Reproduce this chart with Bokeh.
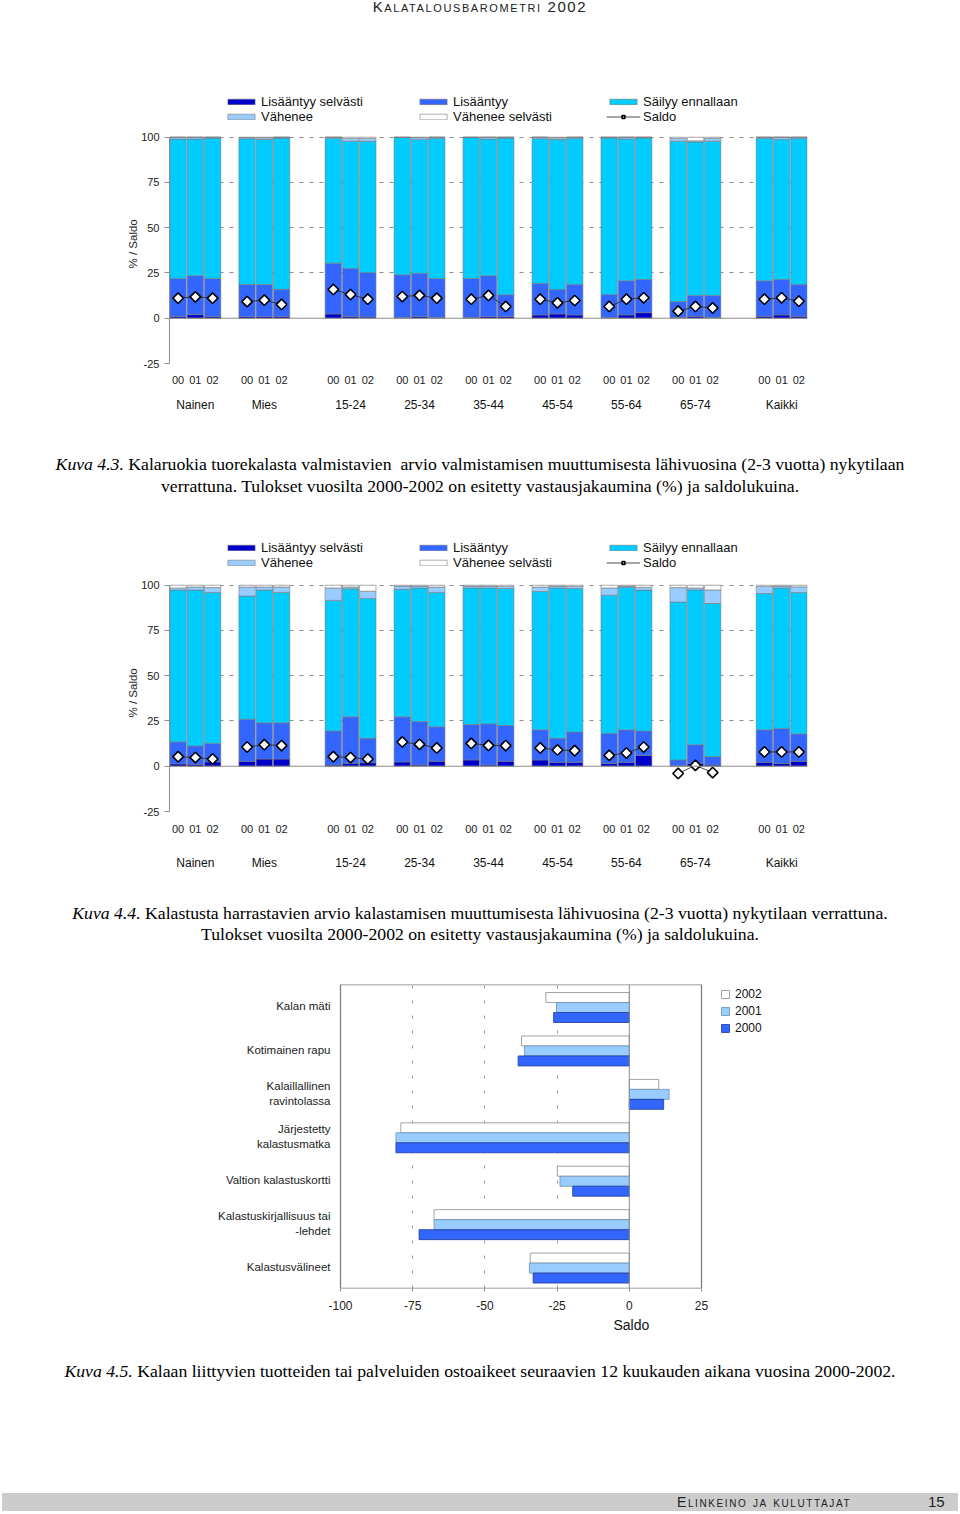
import numpy as np
from bokeh.plotting import figure
from bokeh.models import (Range1d, FixedTicker, LinearAxis, Span, Legend, LegendItem, Div,
                          Title, BoxAnnotation)
from bokeh.core.properties import value
from bokeh.layouts import column
from bokeh.embed import file_html
from bokeh.resources import INLINE

# ---------------- data ----------------
groups = ["Nainen", "Mies", "15-24", "25-34", "35-44", "45-54", "55-64", "65-74", "Kaikki"]
years = ["00", "01", "02"]

# Kuva 4.3 (percent shares per group x year, and saldo)
c1_lis_selv = [1.0, 2.0, 1.0, 1.0, 1.0, 1.0, 2.4, 1.0, 0.7, 0.4, 1.0, 0.4, 0.4, 1.0, 1.0,
               1.8, 2.4, 1.8, 0.4, 1.8, 3.1, 0.4, 1.1, 0.4, 1.1, 1.8, 1.1]
c1_lis = [21.0, 21.5, 21.0, 17.7, 17.7, 15.0, 28.0, 26.5, 24.6, 23.6, 23.8, 21.6, 21.6, 22.5, 12.0,
          17.4, 13.5, 16.9, 12.7, 18.9, 18.3, 8.8, 11.5, 12.2, 19.6, 19.6, 17.6]
c1_sailyy = [77.0, 75.5, 77.5, 80.5, 80.0, 83.5, 69.0, 70.3, 72.5, 75.8, 74.0, 77.4, 77.8, 75.5, 86.5,
             80.0, 82.8, 80.7, 86.5, 78.4, 78.2, 88.6, 84.8, 85.2, 78.7, 77.5, 80.7]
c1_vah = [1.0, 1.0, 0.5, 0.6, 1.0, 0.5, 0.6, 1.5, 1.5, 0.2, 1.0, 0.6, 0.2, 1.0, 0.5,
          0.8, 1.0, 0.6, 0.4, 0.9, 0.4, 1.5, 0.6, 1.6, 0.6, 1.1, 0.6]
c1_vah_selv = [0.0, 0.0, 0.0, 0.2, 0.3, 0.0, 0.0, 0.7, 0.7, 0.0, 0.2, 0.0, 0.0, 0.0, 0.0,
               0.0, 0.3, 0.0, 0.0, 0.0, 0.0, 0.7, 2.0, 0.6, 0.0, 0.0, 0.0]
c1_saldo = [11.1, 11.8, 11.1, 9.2, 10.0, 7.6, 15.9, 13.1, 10.5, 12.0, 12.6, 11.1, 10.5, 12.6, 6.5,
            10.5, 8.5, 9.8, 6.5, 10.5, 11.3, 3.9, 6.5, 5.7, 10.5, 11.3, 9.4]

# Kuva 4.4
c2_lis_selv = [1.3, 1.1, 2.4, 2.7, 4.0, 4.0, 0.7, 1.6, 2.0, 2.4, 0.7, 2.7, 3.5, 0.7, 2.7,
               3.5, 2.2, 2.2, 1.5, 2.2, 6.0, 0.3, 1.5, 0.7, 2.2, 1.5, 2.7]
c2_lis = [12.1, 10.1, 10.2, 23.3, 20.0, 20.0, 18.7, 25.7, 13.4, 24.9, 24.0, 19.1, 19.6, 22.7, 19.8,
          16.6, 13.2, 16.7, 16.6, 17.9, 13.4, 3.2, 10.4, 4.6, 17.9, 19.4, 15.2]
c2_sailyy = [83.9, 86.1, 83.4, 68.0, 73.3, 72.0, 72.2, 70.7, 77.3, 70.5, 73.8, 74.2, 75.4, 75.1, 75.7,
             76.4, 83.1, 79.3, 76.4, 78.8, 77.9, 87.2, 85.5, 84.6, 75.3, 77.6, 78.1]
c2_vah = [1.2, 1.7, 2.7, 5.0, 1.7, 3.0, 6.9, 1.0, 4.0, 1.7, 1.0, 3.0, 1.0, 1.0, 1.1,
          2.5, 1.0, 1.1, 4.0, 0.6, 1.6, 8.0, 1.1, 7.5, 3.9, 1.0, 3.1]
c2_vah_selv = [1.5, 1.0, 1.3, 1.0, 1.0, 1.0, 1.5, 1.0, 3.3, 0.5, 0.5, 1.0, 0.5, 0.5, 0.7,
               1.0, 0.5, 0.7, 1.5, 0.5, 1.1, 1.3, 1.5, 2.6, 0.7, 0.5, 0.9]
c2_saldo = [5.3, 4.8, 4.0, 10.6, 11.9, 11.4, 5.3, 4.8, 4.0, 13.4, 12.1, 10.1, 12.6, 11.5, 11.4,
            10.1, 9.0, 8.6, 6.0, 7.3, 10.6, -4.0, 0.5, -3.5, 7.9, 7.9, 7.9]

# Kuva 4.5
c3_items = ["Kalan mäti", "Kotimainen rapu", "Kalaillallinen\nravintolassa",
            "Järjestetty\nkalastusmatka", "Valtion kalastuskortti",
            "Kalastuskirjallisuus tai\n-lehdet", "Kalastusvälineet"]
c3_2002 = [-28.9, -37.3, 10.2, -79.1, -24.9, -67.6, -34.3]
c3_2001 = [-25.2, -36.3, 13.8, -80.8, -24.0, -67.6, -34.6]
c3_2000 = [-26.2, -38.5, 11.9, -80.8, -19.6, -72.8, -33.3]
c3_ticks = [-100, -75, -50, -25, 0, 25]

# ---------------- style / layout ----------------
FONT = "Liberation Sans"
COLORS = ["#0000CC", "#3366FF", "#00CCFF", "#99CCFF", "#FFFFFF"]
NAMES = ["Lisääntyy selvästi", "Lisääntyy", "Säilyy ennallaan", "Vähenee", "Vähenee selvästi"]
GROUP_START = [0, 4, 9, 13, 17, 21, 25, 29, 34]   # slot layout of groups on the x axis
W = 960
BL, BR = 169, 153   # common left/right borders (frame 169..807 px)


def bar_chart(series, saldo, height, top_b, bot_b, leg_y, std1, std2, ylab_off):
    xs = [float(g + k) for g in GROUP_START for k in range(3)]
    p = figure(width=W, height=height, output_backend="svg", toolbar_location=None, tools="",
               x_range=Range1d(-0.5, 36.5), y_range=Range1d(-25, 124.7),
               min_border_left=BL, min_border_right=BR, min_border_top=top_b,
               min_border_bottom=bot_b)
    p.outline_line_color = None
    p.xgrid.visible = False
    p.ygrid.ticker = FixedTicker(ticks=[-25, 25, 50, 75, 100])
    p.ygrid.grid_line_color = "#8c8c8c"
    p.ygrid.grid_line_dash = "4 6"
    p.ygrid.grid_line_width = 1

    bottom = np.zeros(len(xs))
    rends = []
    for vals, col in zip(series, COLORS):
        top = bottom + np.array(vals)
        r = p.vbar(x=xs, bottom=bottom, top=top, width=0.95, fill_color=col,
                   line_color="#7a7a7a", line_width=0.6)
        rends.append(r)
        bottom = top

    p.add_layout(Span(location=0, dimension="width", line_color="#8c8c8c", line_width=1))

    lx, ly = [], []
    for gi in range(len(GROUP_START)):
        lx += xs[gi * 3:gi * 3 + 3] + [np.nan]
        ly += saldo[gi * 3:gi * 3 + 3] + [np.nan]
    lr = p.line(lx, ly, line_color="#222222", line_width=0.8)
    sr = p.scatter(xs, saldo, marker="square", angle=np.pi / 4, size=7.5, fill_color="white",
                   line_color="black", line_width=1.6)

    legend_sets = [([0, 3], 55), ([1, 4], 247), ([2, None], 437)]
    for idxs, lxoff in legend_sets:
        items = []
        for ix in idxs:
            if ix is None:
                items.append(LegendItem(label="Saldo", renderers=[lr, sr]))
            else:
                items.append(LegendItem(label=NAMES[ix], renderers=[rends[ix]]))
        lg = Legend(items=items, location=(lxoff, leg_y), orientation="vertical",
                    glyph_width=34, glyph_height=7, label_height=15, label_standoff=3,
                    spacing=0, padding=0, margin=0, border_line_color=None,
                    background_fill_alpha=0, label_text_font=FONT,
                    label_text_font_size="13px", label_text_color="#111111")
        p.add_layout(lg)

    ya = p.yaxis[0]
    ya.ticker = FixedTicker(ticks=[-25, 0, 25, 50, 75, 100])
    ya.major_label_overrides = {-25: "-25"}
    ya.bounds = (-25, 100)
    ya.axis_line_color = "#8c8c8c"
    ya.major_tick_line_color = "#8c8c8c"
    ya.major_tick_out = 5
    ya.major_tick_in = 0
    ya.minor_tick_line_color = None
    ya.major_label_standoff = 5
    ya.major_label_text_font = FONT
    ya.major_label_text_font_size = "11px"
    ya.major_label_text_color = "#222222"

    p.add_layout(Title(text="% / Saldo", align="left", offset=ylab_off, standoff=0,
                       text_font=FONT, text_font_style="normal", text_font_size="11.5px",
                       text_color="#222222"), "left")

    xa = p.xaxis[0]
    xa.ticker = FixedTicker(ticks=xs)
    xa.major_label_overrides = {x: years[i % 3] for i, x in enumerate(xs)}
    xa.axis_line_color = None
    xa.major_tick_line_color = None
    xa.minor_tick_line_color = None
    xa.major_label_standoff = std1
    xa.major_label_text_font = FONT
    xa.major_label_text_font_size = "11px"
    xa.major_label_text_color = "#222222"

    centers = [float(g + 1) for g in GROUP_START]
    xa2 = LinearAxis(ticker=FixedTicker(ticks=centers),
                     major_label_overrides={c: groups[i] for i, c in enumerate(centers)})
    xa2.axis_line_color = None
    xa2.major_tick_line_color = None
    xa2.minor_tick_line_color = None
    xa2.major_label_standoff = std2
    xa2.major_label_text_font = FONT
    xa2.major_label_text_font_size = "12px"
    xa2.major_label_text_color = "#111111"
    p.add_layout(xa2, "below")
    return p


def div(html, h):
    return Div(text=html, width=W, height=h, margin=0)


header = div('<div style="width:960px;text-align:center;font-family:\'Liberation Sans\';'
             'font-size:15px;letter-spacing:1.6px;font-variant:small-caps;color:#222;'
             'line-height:14px">Kalatalousbarometri 2002</div>', 22)

cap_style = ("width:960px;font-family:'Liberation Serif';font-size:17.7px;text-align:center;"
             "color:#000;white-space:nowrap;")
cap1 = div('<div style="' + cap_style + 'line-height:22px;padding-top:13px">'
           '<i>Kuva 4.3.</i> Kalaruokia tuorekalasta valmistavien&nbsp; arvio valmistamisen '
           'muuttumisesta lähivuosina (2-3 vuotta) nykytilaan<br>verrattuna. Tulokset vuosilta '
           '2000-2002 on esitetty vastausjakaumina (%) ja saldolukuina.</div>', 70)
cap2 = div('<div style="' + cap_style + 'line-height:21px;padding-top:13px">'
           '<i>Kuva 4.4.</i> Kalastusta harrastavien arvio kalastamisen muuttumisesta lähivuosina '
           '(2-3 vuotta) nykytilaan verrattuna.<br>Tulokset vuosilta 2000-2002 on esitetty '
           'vastausjakaumina (%) ja saldolukuina.</div>', 70)
cap3 = div('<div style="' + cap_style + 'line-height:22px;padding-top:15px">'
           '<i>Kuva 4.5.</i> Kalaan liittyvien tuotteiden tai palveluiden ostoaikeet seuraavien '
           '12 kuukauden aikana vuosina 2000-2002.</div>', 45)
spacer = div('', 103)
footer = div('<div style="position:relative;left:2px;width:956px;height:18px;background:#cccccc;'
             'font-family:\'Liberation Sans\';color:#222">'
             '<span style="position:absolute;left:675px;top:0;font-size:14px;line-height:18px;'
             'letter-spacing:1.6px;font-variant:small-caps">Elinkeino ja kuluttajat</span>'
             '<span style="position:absolute;left:926px;top:0;font-size:15px;line-height:18px">15</span>'
             '</div>', 18)

p1 = bar_chart([c1_lis_selv, c1_lis, c1_sailyy, c1_vah, c1_vah_selv], c1_saldo,
               418, 70, 77, 239.5, 6, 5, 95)
p2 = bar_chart([c2_lis_selv, c2_lis, c2_sailyy, c2_vah, c2_vah_selv], c2_saldo,
               380, 30, 79, 241, 7, 14, 94)

# ---------------- chart 3 ----------------
# frame 169..807 px; value -100 sits at 340 px and 25 at 701 px (2.888 px per unit)
PXU = 361 / 125.0
x3_lo = -100 - (340 - BL) / PXU
x3_hi = 25 + (W - BR - 701) / PXU
p3 = figure(width=W, height=385, output_backend="svg", toolbar_location=None, tools="",
            x_range=Range1d(x3_lo, x3_hi), y_range=Range1d(0, 7),
            min_border_left=BL, min_border_right=BR, min_border_top=24, min_border_bottom=57)
p3.outline_line_color = None
p3.ygrid.visible = False
p3.yaxis.visible = False
p3.xgrid.ticker = FixedTicker(ticks=[-75, -50, -25])
p3.xgrid.grid_line_color = "#9a9a9a"
p3.xgrid.grid_line_dash = "3 12"
p3.add_layout(BoxAnnotation(left=c3_ticks[0], right=c3_ticks[-1], bottom=0, top=7,
                            fill_color=None, fill_alpha=0, line_color="#7f7f7f",
                            line_alpha=1.0, line_width=1.3))

centers3 = [6.5 - i for i in range(len(c3_items))]
bar_specs = [(c3_2002, 0.2, "#FFFFFF", "#8c8c8c", "2002"),
             (c3_2001, -0.03, "#99CCFF", "#6f8fb0", "2001"),
             (c3_2000, -0.26, "#3366FF", "#1f3a99", "2000")]
items3 = []
for vals, off, fc, lc, lab in bar_specs:
    r = p3.hbar(y=[c + off for c in centers3], left=0, right=vals, height=0.23,
                fill_color=fc, line_color=lc, line_width=0.8)
    items3.append(LegendItem(label=lab, renderers=[r]))
p3.add_layout(Span(location=0, dimension="height", line_color="#8c8c8c", line_width=1))

p3.text(x=[c3_ticks[0] - 10 / PXU] * len(c3_items), y=centers3, text=c3_items,
        text_align="right", text_baseline="middle", text_font=value(FONT),
        text_font_size="11.5px", text_color="#222222", text_line_height=1.25)

lg3 = Legend(items=items3, location=(551, 252), orientation="vertical",
             glyph_width=10, glyph_height=10, label_height=17, label_standoff=5,
             spacing=0, padding=0, margin=0, border_line_color=None,
             background_fill_alpha=0, label_text_font=FONT,
             label_text_font_size="12px", label_text_color="#111111")
p3.add_layout(lg3)

xa3 = p3.xaxis[0]
xa3.ticker = FixedTicker(ticks=c3_ticks)
xa3.major_label_overrides = {t: str(t) for t in c3_ticks}
xa3.axis_line_color = None
xa3.major_tick_line_color = "#8c8c8c"
xa3.major_tick_out = 3
xa3.major_tick_in = 0
xa3.minor_tick_line_color = None
xa3.major_label_standoff = 9
xa3.major_label_text_font = FONT
xa3.major_label_text_font_size = "12px"
xa3.major_label_text_color = "#222222"

p3.add_layout(Title(text="Saldo", align="left", offset=613 - BL, standoff=4,
                    text_font=FONT, text_font_style="normal", text_font_size="14px",
                    text_color="#111111"), "below")

page = column(header, p1, cap1, p2, cap2, p3, cap3, spacer, footer, spacing=0)
open("out.html", "w").write(file_html(page, INLINE))
